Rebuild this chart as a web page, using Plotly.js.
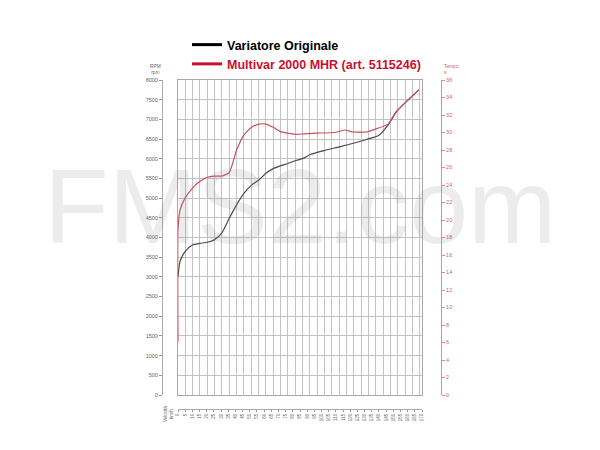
<!DOCTYPE html>
<html>
<head>
<meta charset="utf-8">
<script src="https://cdn.plot.ly/plotly-3.0.1.min.js"></script>
<style>html,body{margin:0;padding:0;background:#fff}#chart{width:600px;height:450px}</style>
</head>
<body>
<div id="chart"></div>
<script>
// Speed (km/h) and engine speed (rpm)
const speedOriginal = [0, 1.4, 4.8, 9.8, 14.8, 20, 24.8, 29.8, 35, 40, 45, 50.2, 55.2, 60, 65, 70, 75, 80, 85.5, 90, 99.1, 108.7, 118.5, 128.7, 137, 143.5, 149.2, 164.4];
const rpmOriginal   = [3000, 3390, 3640, 3810, 3850, 3880, 3940, 4110, 4490, 4830, 5120, 5330, 5460, 5630, 5750, 5820, 5880, 5950, 6010, 6100, 6200, 6290, 6380, 6490, 6590, 6860, 7200, 7750];

const speedMultivar = [0, 0, 1.4, 4.8, 9.8, 14.8, 20, 24.8, 29.8, 35, 40, 45, 50.2, 55.2, 60, 65, 70, 75, 80, 85.5, 93.4, 103.7, 108.7, 113.9, 119.6, 128.7, 134.4, 143.5, 149.2, 164.4];
const rpmMultivar   = [1350, 4190, 4700, 5000, 5250, 5420, 5530, 5560, 5560, 5650, 6220, 6600, 6800, 6880, 6880, 6800, 6690, 6650, 6620, 6630, 6650, 6660, 6680, 6730, 6680, 6680, 6750, 6880, 7200, 7750];

const seriesNames = ['Variatore Originale', 'Multivar 2000 MHR (art. 5115246)'];
const speedTicks = [0,5,10,15,20,25,30,35,40,45,50,55,60,65,70,75,80,85,90,95,100,105,110,115,120,125,130,135,140,145,150,155,160,165,170];

const W = 600, H = 450;
const px = v => v / W, py = v => 1 - v / H;
const yDom = [py(395), py(80)];
const FONT = 'Liberation Sans, Arial, sans-serif';

const traces = [
  {x: speedOriginal, y: rpmOriginal, type: 'scatter', mode: 'lines', line: {color: '#4a4a4a', width: 1.2, shape: 'spline', smoothing: 0.6}, showlegend: false, hoverinfo: 'skip'},
  {x: speedMultivar, y: rpmMultivar, type: 'scatter', mode: 'lines', line: {color: '#c9505c', width: 1.2, shape: 'spline', smoothing: 0.5}, showlegend: false, hoverinfo: 'skip'},
  {x: [null], y: [null], type: 'scatter', mode: 'lines', name: '<b>' + seriesNames[0] + '</b>', line: {color: '#000000', width: 3}},
  {x: [null], y: [null], type: 'scatter', mode: 'lines', name: '<b><span style="color:#c8102e">' + seriesNames[1] + '</span></b>', line: {color: '#c8102e', width: 3}},
  // empty traces so that the extra axes are drawn
  {x: [null], y: [null], xaxis: 'x2', yaxis: 'y3', type: 'scatter', mode: 'lines', showlegend: false, hoverinfo: 'skip'},
  {x: [null], y: [null], xaxis: 'x', yaxis: 'y2', type: 'scatter', mode: 'lines', showlegend: false, hoverinfo: 'skip'}
];

const layout = {
  width: W, height: H,
  margin: {l: 0, r: 0, t: 0, b: 0},
  paper_bgcolor: '#ffffff', plot_bgcolor: 'rgba(0,0,0,0)',
  showlegend: true,
  legend: {x: px(187), y: py(30), xanchor: 'left', yanchor: 'top', bgcolor: 'rgba(0,0,0,0)',
           font: {family: FONT, size: 12.5, color: '#000'}, tracegroupgap: 0},
  xaxis: {domain: [px(178), px(422)], range: [0, 166.6], tickmode: 'linear', dtick: 5, tick0: 0, showgrid: true, gridcolor: '#c2c2c2', gridwidth: 1,
          showticklabels: false, ticks: '', zeroline: false, showline: true, linecolor: '#a8a8a8', mirror: true, fixedrange: true},
  yaxis: {domain: yDom, range: [0, 8000], tickmode: 'linear', dtick: 500, tick0: 0, showgrid: true, gridcolor: '#c2c2c2', gridwidth: 1,
          showticklabels: false, ticks: '', zeroline: false, showline: true, linecolor: '#a8a8a8', mirror: true, fixedrange: true},
  xaxis2: {overlaying: 'x', anchor: 'free', position: py(409), domain: [px(178), px(427)], range: [0, 170],
           tickmode: 'array', tickvals: speedTicks, ticktext: speedTicks.map(String), tickangle: -90, ticks: 'outside', ticklen: 2, tickcolor: '#999',
           showline: true, linecolor: '#aaa', showgrid: false, zeroline: false,
           tickfont: {family: FONT, size: 4.5, color: '#666'}},
  yaxis3: {overlaying: 'y', anchor: 'free', position: px(162), side: 'left', range: [0, 8000], tickmode: 'linear', dtick: 500, tick0: 0,
           ticks: 'outside', ticklen: 3, tickcolor: '#999', showline: true, linecolor: '#aaa', showgrid: false, zeroline: false,
           tickfont: {family: FONT, size: 5.5, color: '#666'}},
  yaxis2: {overlaying: 'y', anchor: 'free', position: px(441), side: 'right', range: [0, 36], tickmode: 'linear', dtick: 2, tick0: 0,
           ticks: 'outside', ticklen: 3, tickcolor: '#e08a94', showline: true, linecolor: '#e08a94', showgrid: false, zeroline: false,
           tickfont: {family: FONT, size: 5.5, color: '#d0606c'}},
  annotations: [
    {text: 'RPM<br>rpm', xref: 'paper', yref: 'paper', x: px(155), y: py(62), xanchor: 'center', yanchor: 'top', showarrow: false,
     font: {family: FONT, size: 4.8, color: '#666'}},
    {text: 'Tempo<br>s', xref: 'paper', yref: 'paper', x: px(442), y: py(62), xanchor: 'left', yanchor: 'top', align: 'left', showarrow: false,
     font: {family: FONT, size: 4.8, color: '#d0606c'}},
    {text: 'Velocità<br>km/h', xref: 'paper', yref: 'paper', x: px(168), y: py(404), xanchor: 'center', yanchor: 'top', textangle: -90, showarrow: false,
     font: {family: FONT, size: 4.5, color: '#666'}},
    {text: 'FMS2.com', xref: 'paper', yref: 'paper', x: px(300), y: py(206), xanchor: 'center', yanchor: 'middle', showarrow: false,
     font: {family: FONT, size: 106, color: 'rgba(140,140,140,0.17)'}}
  ]
};

Plotly.newPlot('chart', traces, layout, {staticPlot: true, displayModeBar: false});
</script>
</body>
</html>
